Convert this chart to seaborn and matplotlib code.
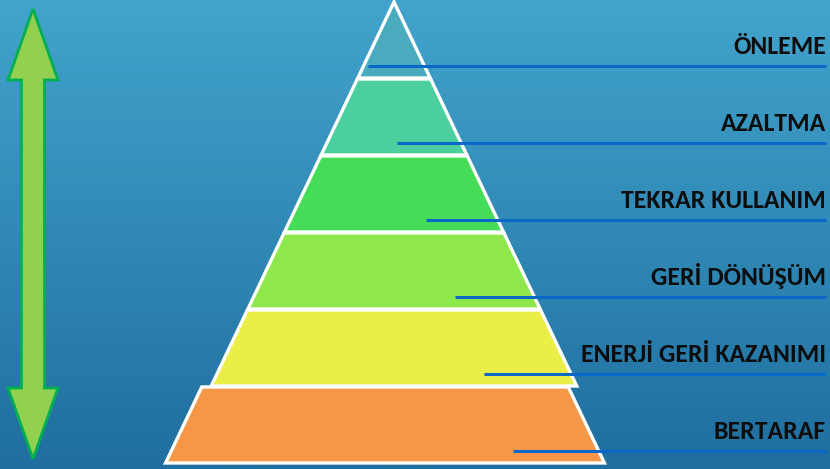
import numpy as np
import matplotlib
import matplotlib.pyplot as plt
from matplotlib.patches import Polygon
import seaborn as sns

# pyramid levels, top to bottom
levels = ["ÖNLEME", "AZALTMA", "TEKRAR KULLANIM", "GERİ DÖNÜŞÜM",
          "ENERJİ GERİ KAZANIMI", "BERTARAF"]
level_colors = ["#4aabbf", "#4ccf9f", "#45dc58", "#8ee84b", "#ecee48", "#f69748"]

sns.set_style("white")
plt.rcParams['font.family'] = ['Carlito', 'DejaVu Sans']

W, H = 830, 469
fig = plt.figure(figsize=(W / 100, H / 100), dpi=100)
ax = fig.add_axes([0, 0, 1, 1])
ax.set_xlim(0, W)
ax.set_ylim(H, 0)
ax.axis("off")

# background gradient
top = np.array([0x42, 0xa4, 0xcd]) / 255
bot = np.array([0x1f, 0x6e, 0x9f]) / 255
t = np.linspace(0, 1, 256)[:, None]
grad = top[None, :] * (1 - t) + bot[None, :] * t
ax.imshow(grad[:, None, :].repeat(2, axis=1), extent=[0, W, H, 0],
          aspect="auto", zorder=0)

apex_x, apex_y = 394, 2
slope = 0.476
step = 77
for i, (name, col) in enumerate(zip(levels, level_colors)):
    y_t = apex_y + step * i
    y_b = y_t + step - 1
    shift = -9 if i == len(levels) - 1 else 0
    ht = slope * (y_t - apex_y)
    hb = slope * (y_b - apex_y)
    cx = apex_x + shift
    pts = [(cx - ht, y_t), (cx + ht, y_t), (cx + hb, y_b), (cx - hb, y_b)]
    ax.add_patch(Polygon(pts, closed=True, facecolor=col, edgecolor="white",
                         lw=2.4, joinstyle="miter", zorder=2))
    # pointer line and label
    ly = y_b - 12
    ax.plot([368 + 29 * i, 826], [ly, ly], color="#0a68c8", lw=2.2,
            solid_capstyle="butt", zorder=3)
    ax.text(826, ly - 12, name, ha="right", va="baseline", fontsize=18.5,
            fontweight="bold", color="#0d0d0d", zorder=4)

# double-headed arrow on the left
ax_c, sh, hw = 33, 11.5, 25
arrow = [(ax_c, 9), (ax_c + hw, 80), (ax_c + sh, 80), (ax_c + sh, 388),
         (ax_c + hw, 388), (ax_c, 459), (ax_c - hw, 388), (ax_c - sh, 388),
         (ax_c - sh, 80), (ax_c - hw, 80)]
ax.add_patch(Polygon(arrow, closed=True, facecolor="#92d050",
                     edgecolor="#00b050", lw=2, joinstyle="miter", zorder=3))

fig.savefig("out.png", dpi=100)
plt.close()
